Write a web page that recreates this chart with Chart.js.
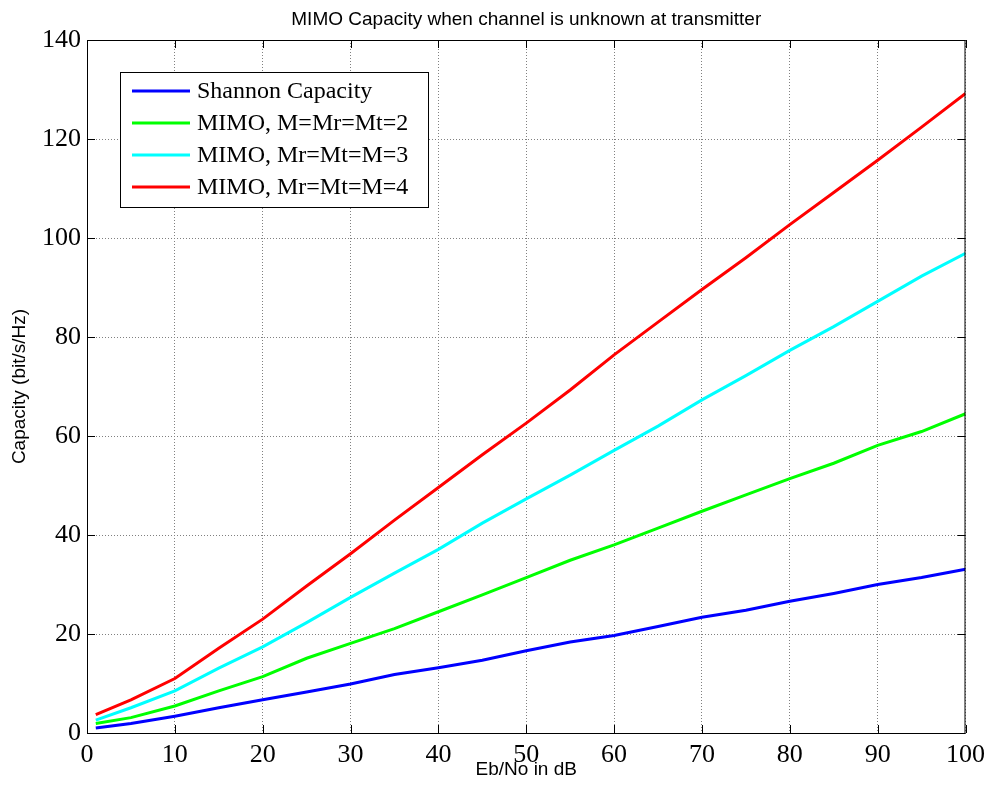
<!DOCTYPE html>
<html>
<head>
<meta charset="utf-8">
<title>MIMO Capacity</title>
<script src="https://cdn.jsdelivr.net/npm/chart.js@4.4.0/dist/chart.umd.min.js"></script>
<style>
  body { margin: 0; background: #fff; }
  canvas { display: block; }
</style>
</head>
<body>
<canvas id="capacityChart" width="992" height="794"></canvas>
<script>
// Eb/No values (dB)
const ebNo = [1, 5, 10, 15, 20, 25, 30, 35, 40, 45, 50, 55, 60, 65, 70, 75, 80, 85, 90, 95, 100];

// Capacity in bit/s/Hz
const shannon = [1.0, 1.9, 3.4, 5.1, 6.7, 8.3, 9.9, 11.8, 13.2, 14.7, 16.6, 18.4, 19.7, 21.5, 23.4, 24.8, 26.6, 28.2, 30.0, 31.4, 33.1];
const mimo2 = [1.9, 3.1, 5.45, 8.5, 11.4, 15.1, 18.1, 21.1, 24.5, 27.9, 31.4, 34.9, 38.0, 41.4, 44.8, 48.1, 51.4, 54.5, 58.1, 60.9, 64.5];
const mimo3 = [2.6, 5.1, 8.5, 13.1, 17.4, 22.3, 27.4, 32.3, 37.1, 42.4, 47.3, 52.1, 57.1, 62.0, 67.3, 72.2, 77.3, 82.1, 87.2, 92.3, 96.9];
const mimo4 = [3.7, 6.7, 11.0, 17.1, 23.0, 29.7, 36.2, 43.0, 49.6, 56.2, 62.6, 69.3, 76.4, 83.0, 89.6, 96.0, 102.7, 109.2, 115.7, 122.4, 129.2];

const seriesNames = ['Shannon Capacity', 'MIMO, M=Mr=Mt=2', 'MIMO, Mr=Mt=M=3', 'MIMO, Mr=Mt=M=4'];
const seriesColors = ['#0000ff', '#00ff00', '#00ffff', '#ff0000'];
const chartTitle = 'MIMO Capacity when channel is unknown at transmitter';

const toPoints = (ys) => ebNo.map((x, i) => ({ x: x, y: ys[i] }));

const serif = 'Liberation Serif, Times New Roman, serif';
const sans = 'Liberation Sans, Arial, sans-serif';

// Title over the axes, box around them, inward ticks on all four sides and the legend
const matlabFrame = {
  id: 'matlabFrame',
  afterDraw(chart) {
    const { ctx, chartArea: a, scales } = chart;
    ctx.save();

    ctx.fillStyle = '#000';
    ctx.font = '19px ' + sans;
    ctx.textAlign = 'center';
    ctx.textBaseline = 'alphabetic';
    ctx.fillText(chartTitle, (a.left + a.right) / 2, 25);
    ctx.textAlign = 'left';

    ctx.strokeStyle = '#000';
    ctx.lineWidth = 1;
    ctx.strokeRect(a.left + 0.5, a.top + 0.5, a.right - a.left - 1, a.bottom - a.top);

    const len = 8;
    ctx.beginPath();
    scales.x.ticks.forEach(t => {
      const px = Math.round(scales.x.getPixelForValue(t.value)) + 0.5;
      ctx.moveTo(px, a.bottom); ctx.lineTo(px, a.bottom - len);
      ctx.moveTo(px, a.top); ctx.lineTo(px, a.top + len);
    });
    scales.y.ticks.forEach(t => {
      const py = Math.round(scales.y.getPixelForValue(t.value)) + 0.5;
      ctx.moveTo(a.left, py); ctx.lineTo(a.left + len, py);
      ctx.moveTo(a.right, py); ctx.lineTo(a.right - len, py);
    });
    ctx.stroke();

    // legend
    const lx = 120, ly = 72, lw = 308, lh = 135;
    ctx.fillStyle = '#fff';
    ctx.fillRect(lx, ly, lw, lh);
    ctx.strokeRect(lx + 0.5, ly + 0.5, lw, lh);
    ctx.font = '24px ' + serif;
    ctx.textBaseline = 'middle';
    chart.data.datasets.forEach((ds, i) => {
      const rowY = ly + 19 + i * 32;
      ctx.strokeStyle = ds.borderColor;
      ctx.lineWidth = 3;
      ctx.beginPath();
      ctx.moveTo(lx + 12, rowY);
      ctx.lineTo(lx + 70, rowY);
      ctx.stroke();
      ctx.fillStyle = '#000';
      ctx.fillText(ds.label, lx + 77, rowY + 1);
    });
    ctx.restore();
  }
};

const ctx = document.getElementById('capacityChart').getContext('2d');

const capacityChart = new Chart(ctx, {
  type: 'line',
  data: {
    datasets: [shannon, mimo2, mimo3, mimo4].map((ys, i) => ({
      label: seriesNames[i],
      data: toPoints(ys),
      borderColor: seriesColors[i],
      backgroundColor: seriesColors[i],
      borderWidth: 3,
      pointRadius: 0,
      tension: 0,
      fill: false,
    }))
  },
  options: {
    responsive: false,
    animation: false,
    devicePixelRatio: 1,
    layout: { padding: { left: 0, right: 25, top: 40, bottom: 0 } },
    plugins: {
      legend: { display: false },
      tooltip: { enabled: false },
      title: { display: false }
    },
    scales: {
      x: {
        type: 'linear',
        min: 0,
        max: 100,
        ticks: {
          stepSize: 10,
          color: '#000',
          padding: 7,
          maxRotation: 0,
          font: { family: serif, size: 26 }
        },
        grid: { color: '#808080', lineWidth: 1, drawTicks: false },
        border: { display: false, dash: [1, 2] },
        title: {
          display: true,
          text: 'Eb/No in dB',
          color: '#000',
          font: { family: sans, size: 19 },
          padding: { top: 0, bottom: 12.6 }
        },
        afterFit: (scale) => { scale.height = 61; }
      },
      y: {
        type: 'linear',
        min: 0,
        max: 140,
        ticks: {
          stepSize: 20,
          color: '#000',
          padding: 6,
          font: { family: serif, size: 26 }
        },
        grid: { color: '#808080', lineWidth: 1, drawTicks: false },
        border: { display: false, dash: [1, 2] },
        title: {
          display: true,
          text: 'Capacity (bit/s/Hz)',
          color: '#000',
          font: { family: sans, size: 19 },
          padding: { top: 8.6, bottom: 0 }
        },
        afterFit: (scale) => { scale.width = 87; }
      }
    }
  },
  plugins: [matlabFrame]
});
</script>
</body>
</html>
